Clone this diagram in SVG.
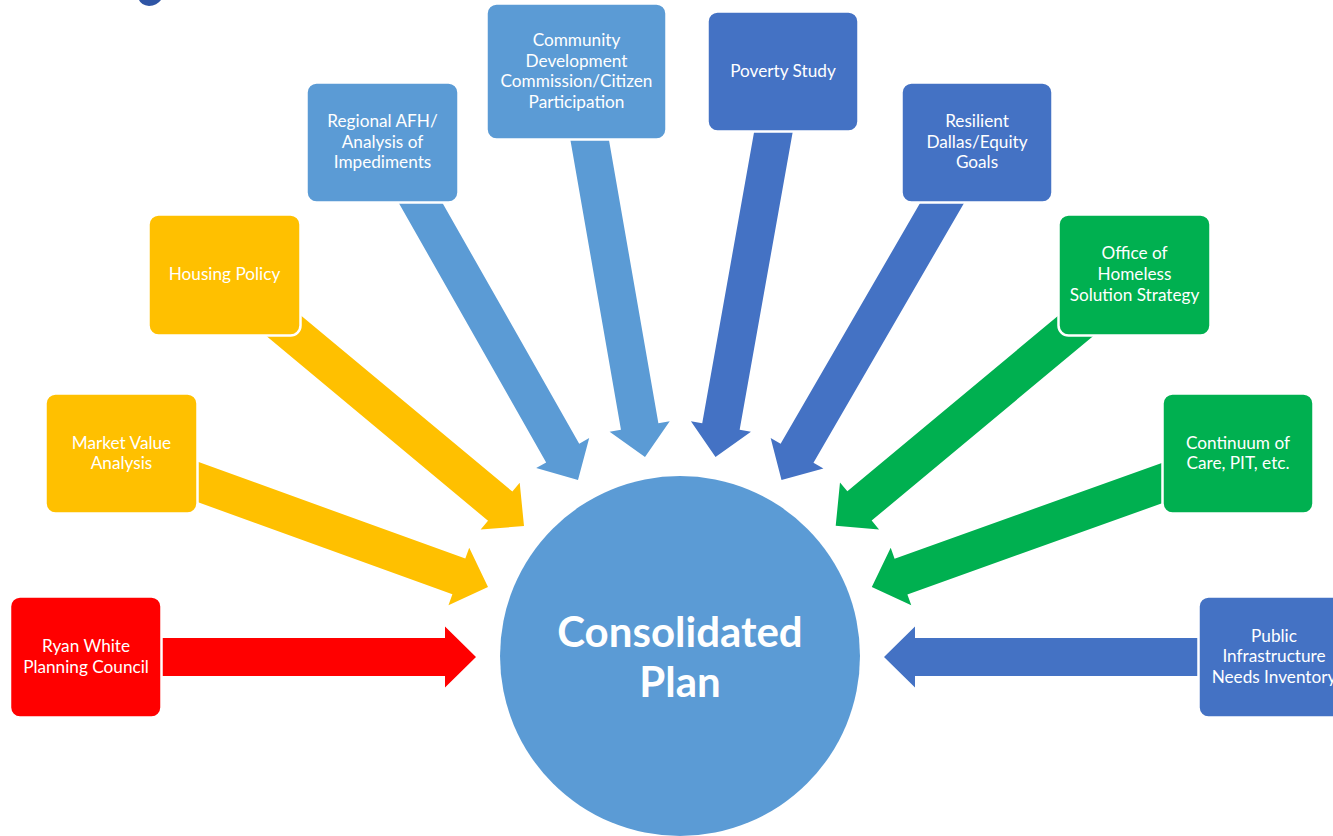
<svg xmlns="http://www.w3.org/2000/svg" width="1333" height="836" viewBox="0 0 1333 836">
  <style>
    .box { stroke: #ffffff; stroke-width: 2.5; }
    .red { fill: #ff0000; }
    .yellow { fill: #ffc000; }
    .lblue { fill: #5b9bd5; }
    .dblue { fill: #4472c4; }
    .green { fill: #00b050; }
    .lbl { font-family: Lato, "Open Sans", "Liberation Sans", sans-serif; font-size: 17.2px; fill: #ffffff; text-anchor: middle; }
    .title { font-family: Lato, "Open Sans", "Liberation Sans", sans-serif; font-size: 42px; font-weight: bold; fill: #ffffff; text-anchor: middle; }
  </style>
  <rect width="1333" height="836" fill="#ffffff"/>

  <!-- fragment of a heading cut by the top edge -->
  <path d="M139,0 Q141,5 149,6 Q157,5.5 161,0 Z" fill="#2f55a5"/>

  <!-- block arrows: tip at local origin, pointing along +x -->
  <g id="connectors">
    <path class="red" transform="translate(476,657)" d="M0,0 L-31,-30.5 L-31,-19 L-326,-19 L-326,19 L-31,19 L-31,30.5 Z"/>
    <path class="yellow" transform="translate(488,587) rotate(19.9)" d="M0,0 L-31,-30.5 L-31,-19 L-322,-19 L-322,19 L-31,19 L-31,30.5 Z"/>
    <path class="yellow" transform="translate(524,526) rotate(39.8)" d="M0,0 L-31,-30.5 L-31,-19 L-330,-19 L-330,19 L-31,19 L-31,30.5 Z"/>
    <path class="lblue" transform="translate(578,480) rotate(60.4)" d="M0,0 L-31,-30.5 L-31,-19 L-340,-19 L-340,19 L-31,19 L-31,30.5 Z"/>
    <path class="lblue" transform="translate(645,457) rotate(80.1)" d="M0,0 L-31,-30.5 L-31,-19 L-340,-19 L-340,19 L-31,19 L-31,30.5 Z"/>
    <path class="dblue" transform="translate(715.5,457) rotate(100.1)" d="M0,0 L-31,-30.5 L-31,-19 L-345,-19 L-345,19 L-31,19 L-31,30.5 Z"/>
    <path class="dblue" transform="translate(781.5,480) rotate(120.1)" d="M0,0 L-31,-30.5 L-31,-19 L-340,-19 L-340,19 L-31,19 L-31,30.5 Z"/>
    <path class="green" transform="translate(835.7,525.8) rotate(140.2)" d="M0,0 L-31,-30.5 L-31,-19 L-330,-19 L-330,19 L-31,19 L-31,30.5 Z"/>
    <path class="green" transform="translate(871.8,587) rotate(160.3)" d="M0,0 L-31,-30.5 L-31,-19 L-320,-19 L-320,19 L-31,19 L-31,30.5 Z"/>
    <path class="dblue" transform="translate(884,657) rotate(180)" d="M0,0 L-31,-30.5 L-31,-19 L-326,-19 L-326,19 L-31,19 L-31,30.5 Z"/>
  </g>

  <g id="consolidated-plan">
    <circle cx="680" cy="656" r="180" class="lblue"/>
    <text class="title" x="680" y="647">Consolidated</text>
    <text class="title" x="680" y="697">Plan</text>
  </g>

  <g id="ryan-white">
    <rect class="box red" x="10" y="596.5" width="151.5" height="121" rx="10"/>
    <text class="lbl" x="86" y="652">Ryan White</text>
    <text class="lbl" x="86" y="673">Planning Council</text>
  </g>

  <g id="market-value">
    <rect class="box yellow" x="45.5" y="393.5" width="152" height="120" rx="10"/>
    <text class="lbl" x="121.5" y="449">Market Value</text>
    <text class="lbl" x="121.5" y="469">Analysis</text>
  </g>

  <g id="housing-policy">
    <rect class="box yellow" x="148.5" y="214.5" width="152" height="121" rx="10"/>
    <text class="lbl" x="224.5" y="280">Housing Policy</text>
  </g>

  <g id="regional-afh">
    <rect class="box lblue" x="306.5" y="82.5" width="152" height="120" rx="10"/>
    <text class="lbl" x="382.5" y="127">Regional AFH/</text>
    <text class="lbl" x="382.5" y="148">Analysis of</text>
    <text class="lbl" x="382.5" y="168">Impediments</text>
  </g>

  <g id="community-development">
    <rect class="box lblue" x="486.5" y="3.5" width="180" height="136" rx="10"/>
    <text class="lbl" x="576.5" y="46">Community</text>
    <text class="lbl" x="576.5" y="67">Development</text>
    <text class="lbl" x="576.5" y="87">Commission/Citizen</text>
    <text class="lbl" x="576.5" y="108">Participation</text>
  </g>

  <g id="poverty-study">
    <rect class="box dblue" x="707.5" y="11.5" width="151" height="120" rx="10"/>
    <text class="lbl" x="783" y="77">Poverty Study</text>
  </g>

  <g id="resilient-dallas">
    <rect class="box dblue" x="901.5" y="82.5" width="151" height="120" rx="10"/>
    <text class="lbl" x="977" y="127">Resilient</text>
    <text class="lbl" x="977" y="148">Dallas/Equity</text>
    <text class="lbl" x="977" y="168">Goals</text>
  </g>

  <g id="homeless-solutions">
    <rect class="box green" x="1058.5" y="214.5" width="152" height="121" rx="10"/>
    <text class="lbl" x="1134.5" y="259">Office of</text>
    <text class="lbl" x="1134.5" y="280">Homeless</text>
    <text class="lbl" x="1134.5" y="301">Solution Strategy</text>
  </g>

  <g id="continuum-of-care">
    <rect class="box green" x="1162.5" y="393.5" width="151" height="120" rx="10"/>
    <text class="lbl" x="1238" y="449">Continuum of</text>
    <text class="lbl" x="1238" y="469">Care, PIT, etc.</text>
  </g>

  <g id="public-infrastructure">
    <rect class="box dblue" x="1198.5" y="596.5" width="151" height="121" rx="10"/>
    <text class="lbl" x="1274" y="642">Public</text>
    <text class="lbl" x="1274" y="662">Infrastructure</text>
    <text class="lbl" x="1274" y="683">Needs Inventory</text>
  </g>
</svg>
